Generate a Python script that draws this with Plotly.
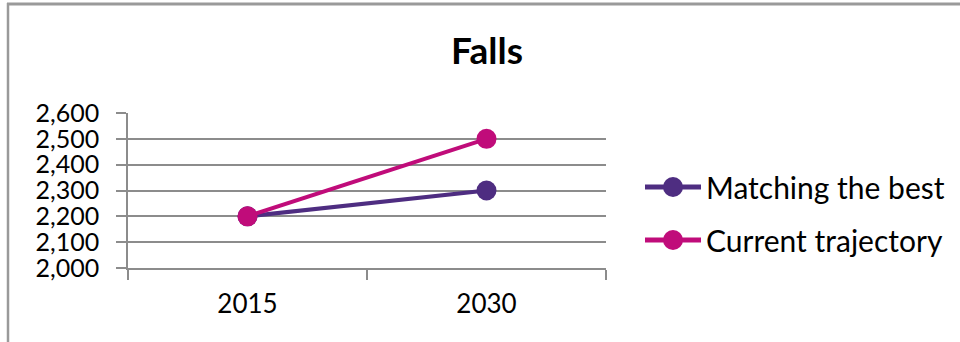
import plotly.graph_objects as go

years = ["2015", "2030"]
matching_best = [2200, 2300]
current_traj = [2200, 2500]
series_names = ["Matching the best", "Current trajectory"]
colors = ["#4E2D81", "#C00C7A"]
y_ticks = [2000, 2100, 2200, 2300, 2400, 2500, 2600]
y_tick_labels = ["2,000", "2,100", "2,200", "2,300", "2,400", "2,500", "2,600"]

W, H = 960, 342
L, R, T, B = 128, 354, 113, 74
pw, ph = W - L - R, H - T - B

def px(x):
    return (x - L) / pw

def py(y):
    return (H - B - y) / ph

FONT = "Lato"

fig = go.Figure()
series = [matching_best, current_traj]
for name, vals, col in zip(series_names, series, colors):
    fig.add_trace(go.Scatter(
        x=years, y=vals, name=name, mode="lines+markers",
        line=dict(color=col, width=4), marker=dict(size=20, color=col),
        cliponaxis=False, showlegend=False))

axis_col = "#8c8c8c"

# custom legend (long line segment + big marker, as in the reference)
legend_y = [187, 240]
shapes = [
    dict(type="line", xref="paper", yref="paper", x0=px(7), x1=px(970),
         y0=py(4), y1=py(4), line=dict(color="#9a9a9a", width=3)),
    dict(type="line", xref="paper", yref="paper", x0=px(8), x1=px(8),
         y0=py(3), y1=py(350), line=dict(color="#9a9a9a", width=2.5)),
]
annotations = []
for name, col, ly in zip(series_names, colors, legend_y):
    shapes.append(dict(type="line", xref="paper", yref="paper",
                       x0=px(645), x1=px(701), y0=py(ly), y1=py(ly),
                       line=dict(color=col, width=5)))
    shapes.append(dict(type="circle", xref="paper", yref="paper",
                       x0=px(663), x1=px(683), y0=py(ly - 10), y1=py(ly + 10),
                       fillcolor=col, line=dict(color=col, width=0)))
    annotations.append(dict(text=name, xref="paper", yref="paper",
                            x=px(704), y=py(ly), xanchor="left", yanchor="middle",
                            showarrow=False, font=dict(size=30, family=FONT, color="black")))

fig.update_layout(
    width=W, height=H,
    margin=dict(l=L, r=R, t=T, b=B),
    paper_bgcolor="white", plot_bgcolor="white",
    font=dict(family=FONT, color="black"),
    title=dict(text="<b>Falls</b>", xref="paper", x=px(487), xanchor="center",
               yref="container", y=1 - 51 / H, yanchor="middle",
               font=dict(size=37, family=FONT)),
    xaxis=dict(type="category", range=[-0.5, 1.5], tickson="boundaries",
               ticks="outside", ticklen=10, tickcolor=axis_col, tickwidth=1.5,
               showline=True, linecolor=axis_col, linewidth=1.5,
               showgrid=False, tickfont=dict(size=26, family=FONT),
               ticklabelstandoff=12),
    yaxis=dict(range=[2000, 2600], tickvals=y_ticks, ticktext=y_tick_labels,
               ticks="outside", ticklen=10, tickcolor=axis_col, tickwidth=1.5,
               showline=True, linecolor=axis_col, linewidth=1.5,
               showgrid=True, gridcolor=axis_col, gridwidth=1.5,
               zeroline=False, tickfont=dict(size=25, family=FONT),
               ticklabelstandoff=12),
    showlegend=False,
    shapes=shapes,
    annotations=annotations,
)

fig.write_html("out.html")
